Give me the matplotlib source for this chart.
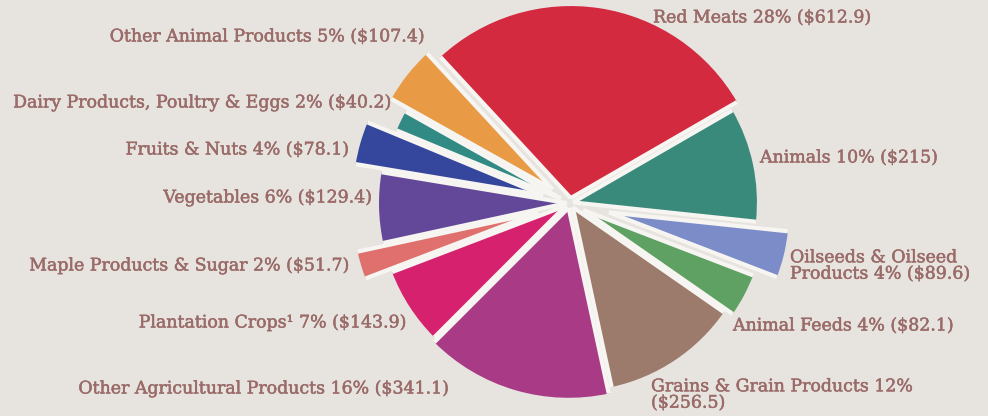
import numpy as np
import matplotlib.pyplot as plt
import matplotlib.patheffects as pe

# values in $ million, counterclockwise starting from Red Meats
labels = ['Red Meats 28% ($612.9)',
          'Other Animal Products 5% ($107.4)',
          'Dairy Products, Poultry & Eggs 2% ($40.2)',
          'Fruits & Nuts 4% ($78.1)',
          'Vegetables 6% ($129.4)',
          'Maple Products & Sugar 2% ($51.7)',
          'Plantation Crops\u00b9 7% ($143.9)',
          'Other Agricultural Products 16% ($341.1)',
          'Grains & Grain Products 12%\n($256.5)',
          'Animal Feeds 4% ($82.1)',
          'Oilseeds & Oilseed\nProducts 4% ($89.6)',
          'Animals 10% ($215)']
values = [612.9, 107.4, 40.2, 78.1, 129.4, 51.7, 143.9, 341.1, 256.5, 82.1, 89.6, 215]
colors = ['#d42a40', '#e89a45', '#318a84', '#34479c', '#63489a', '#e0706e',
          '#d6226e', '#a83a86', '#9c7b6c', '#5fa063', '#7b8cc8', '#3a8a7c']

# styling: per-wedge radius and explode (pixel units)
radii = [192, 185, 178, 190, 188, 185, 186, 190, 184, 182, 180, 184]
explode = [5, 22, 10, 28, 3, 33, 5, 5, 5, 15, 40, 3]
# label anchors (pixel coords from top-left), alignment
label_pos = [(653, 18, 'left'), (425, 37, 'right'), (392, 103, 'right'),
             (349, 150, 'right'), (372, 198, 'right'), (350, 266, 'right'),
             (407, 323, 'right'), (449, 389, 'right'), (651, 395, 'left'),
             (733, 326, 'left'), (790, 266, 'left'), (760, 158, 'left')]

W, H = 988, 416
bg = '#e7e4e0'
gap = '#f7f5f1'
txt = '#9a6b68'
fig = plt.figure(figsize=(W / 100, H / 100), dpi=100, facecolor=bg)
ax = fig.add_axes([0, 0, 1, 1])
ax.set_facecolor(bg)

center = (570, H - 203)
wedges, _ = ax.pie(values, explode=explode, radius=1, center=center,
                   startangle=30, counterclock=True, colors=colors,
                   wedgeprops=dict(linewidth=0))
for w, r in zip(wedges, radii):
    w.set_radius(r)

# white separators along the straight edges of each wedge
for w in wedges:
    cx, cy = w.center
    for th in (w.theta1, w.theta2):
        t = np.deg2rad(th)
        ax.plot([cx, cx + w.r * np.cos(t)], [cy, cy + w.r * np.sin(t)],
                color=gap, lw=3, solid_capstyle='butt', zorder=3)

for lab, (x, y, ha) in zip(labels, label_pos):
    ax.text(x, H - y, lab, ha=ha, va='center', color=txt, fontsize=12.5,
            family='DejaVu Serif', linespacing=0.95,
            path_effects=[pe.withStroke(linewidth=0.35, foreground=txt)])

ax.set_xlim(0, W)
ax.set_ylim(0, H)
ax.set_aspect('auto')
ax.axis('off')

fig.savefig('out.png', dpi=100, facecolor=bg)
